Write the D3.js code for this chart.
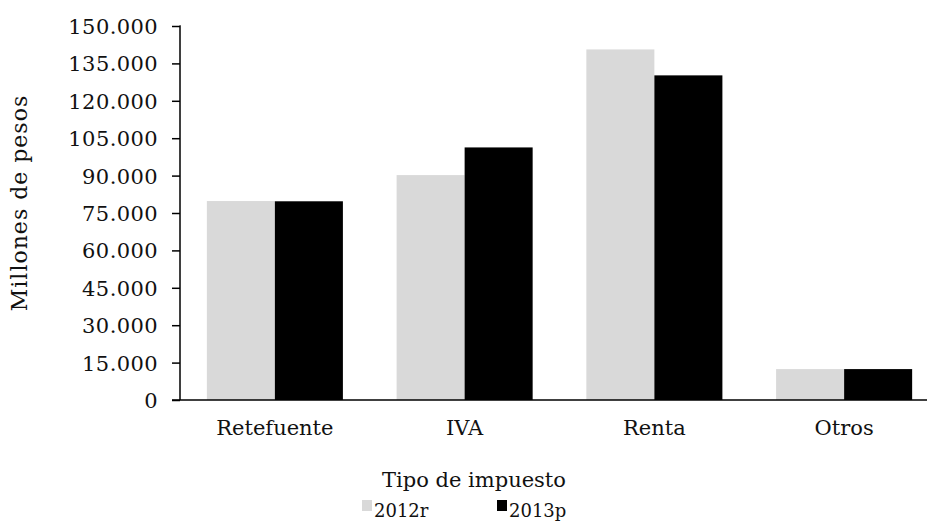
<!DOCTYPE html>
<html>
<head>
<meta charset="utf-8">
<script src="https://cdn.jsdelivr.net/npm/d3@7"></script>
<style>
  html, body { margin: 0; padding: 0; background: #fff; }
  svg text { font-family: "DejaVu Serif", "Liberation Serif", serif; fill: #111; }
</style>
</head>
<body>
<svg id="chart" width="927" height="527"></svg>
<script>
const categories = ["Retefuente", "IVA", "Renta", "Otros"];
const seriesNames = ["2012r", "2013p"];
const values2012r = [79800, 90200, 140600, 12400];
const values2013p = [79700, 101300, 130200, 12400];
const yTicks = [0, 15000, 30000, 45000, 60000, 75000, 90000, 105000, 120000, 135000, 150000];
const colors = ["#d9d9d9", "#000000"];
const yTitle = "Millones de pesos";
const xTitle = "Tipo de impuesto";

const svg = d3.select("#chart");
const mLeft = 180, mRight = 939, mTop = 26, mBottom = 400;

const x = d3.scaleBand().domain(categories).range([mLeft, mRight]).paddingInner(0.283).paddingOuter(0.1415);
const xs = d3.scaleBand().domain(seriesNames).range([0, x.bandwidth()]).padding(0);
const y = d3.scaleLinear().domain([0, 150000]).range([mBottom, mTop]);

const fmt = v => d3.format(",")(v).replace(/,/g, ".");

const data = categories.map((c, i) => ({ cat: c, vals: [values2012r[i], values2013p[i]] }));

const g = svg.append("g");
g.selectAll("g.cat").data(data).join("g")
  .attr("class", "cat")
  .attr("transform", d => `translate(${x(d.cat)},0)`)
  .selectAll("rect").data(d => d.vals.map((v, j) => ({ s: seriesNames[j], v, j })))
  .join("rect")
  .attr("x", d => xs(d.s))
  .attr("y", d => y(d.v))
  .attr("width", xs.bandwidth())
  .attr("height", d => mBottom - y(d.v))
  .attr("fill", d => colors[d.j]);

// y axis
const yAxis = svg.append("g").attr("transform", `translate(${mLeft},0)`)
  .call(d3.axisLeft(y).tickValues(yTicks).tickFormat(fmt).tickSize(8).tickPadding(14));
yAxis.select(".domain").attr("stroke", "#000").attr("stroke-width", 1.5).attr("d", `M-0.5,${mTop}H0V${mBottom}`);
yAxis.selectAll(".tick line").attr("stroke", "#000").attr("stroke-width", 1.5);
yAxis.selectAll(".tick text").style("font-size", "21px").style("letter-spacing", "0.4px").attr("dy", "0.36em");

// x axis
const xAxis = svg.append("g").attr("transform", `translate(0,${mBottom})`)
  .call(d3.axisBottom(x).tickSize(0).tickPadding(20));
xAxis.select(".domain").attr("stroke", "#000").attr("stroke-width", 1.5).attr("d", `M${mLeft - 8},0H${mRight}`);
xAxis.selectAll(".tick text").style("font-size", "21px").attr("dy", "0.71em");

// titles
svg.append("text").attr("transform", `translate(27,203) rotate(-90)`)
  .attr("text-anchor", "middle").style("font-size", "22px").style("letter-spacing", "1px").text(yTitle);
svg.append("text").attr("x", 474).attr("y", 487)
  .attr("text-anchor", "middle").style("font-size", "21px").text(xTitle);

// legend
const legendX = [362, 497];
const lg = svg.append("g").selectAll("g").data(seriesNames).join("g")
  .attr("transform", (d, i) => `translate(${legendX[i]},500)`);
lg.append("rect").attr("width", 10).attr("height", 11).attr("fill", (d, i) => colors[i]);
lg.append("text").attr("x", 12).attr("y", 17).style("font-size", "18px").text(d => d);
</script>
</body>
</html>
